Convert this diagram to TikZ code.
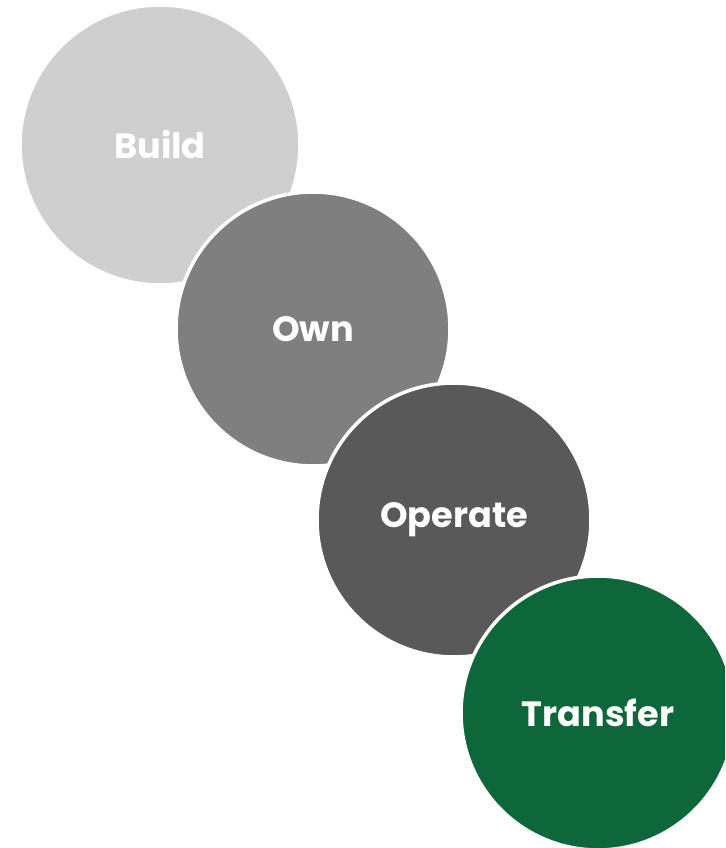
\documentclass[tikz,border=0pt]{standalone}
\usepackage{fontspec}
\setmainfont{Poppins}
\definecolor{buildgrey}{HTML}{D0CFD0}
\definecolor{owngrey}{HTML}{7F7F7F}
\definecolor{operategrey}{HTML}{595959}
\definecolor{transfergreen}{HTML}{0E673A}
\tikzset{
  stage/.style={circle,draw=white,line width=2pt,minimum size=5.48cm,
    inner sep=0pt,text=white,font=\fontsize{20}{24}\selectfont\bfseries}
}
\begin{document}
\begin{tikzpicture}[x=0.02cm,y=-0.02cm]
\useasboundingbox (0,0) rectangle (725,848);
\clip (0,0) rectangle (725,848);
\node[stage,fill=buildgrey,minimum size=5.6cm] (build) at (160,145) {Build};
\node[stage,fill=owngrey] (own) at (313,329) {Own};
\node[stage,fill=operategrey] (operate) at (454,520) {Operate};
\node[stage,fill=transfergreen] (transfer) at (598,713) {Transfer};
\end{tikzpicture}
\end{document}
